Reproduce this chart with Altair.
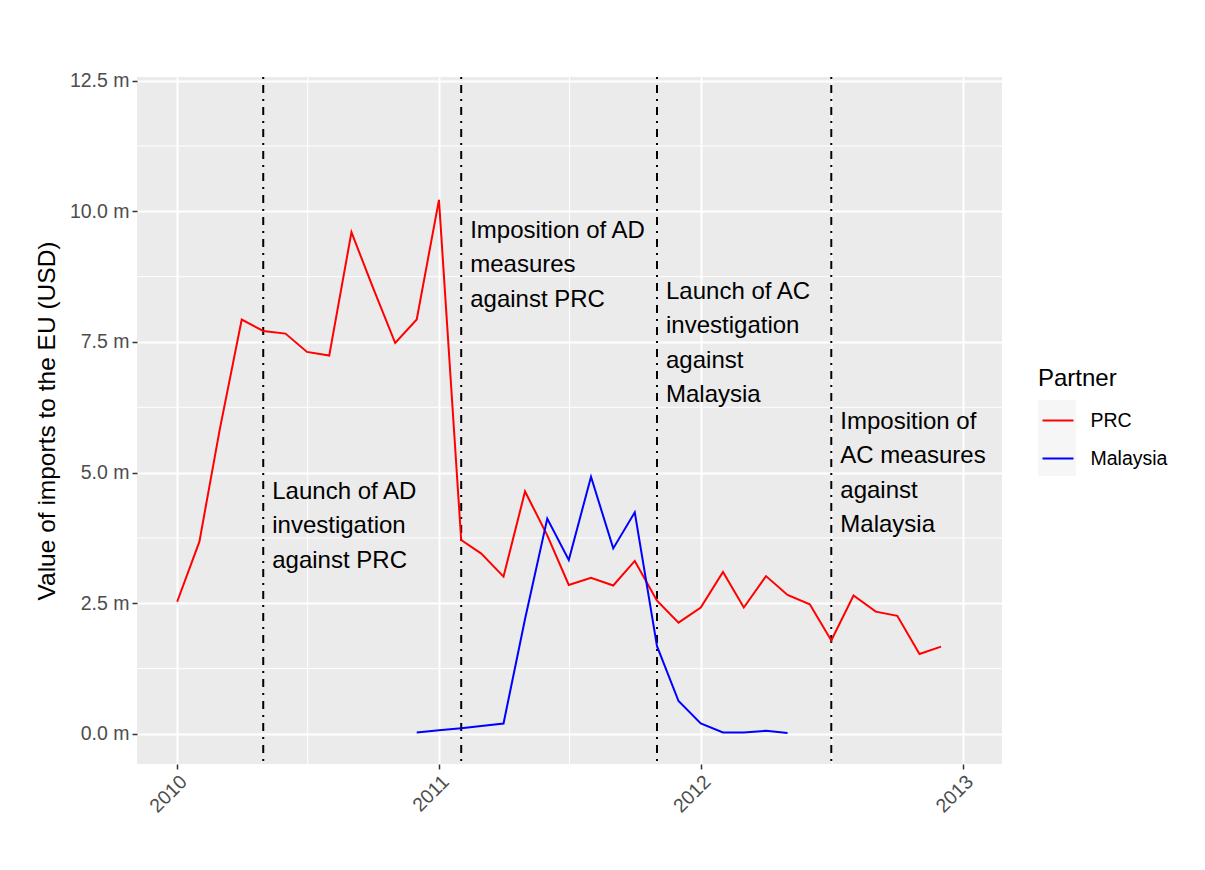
import altair as alt
import pandas as pd

# ---------------- data ----------------
prc_months = [
    "2010-01-01", "2010-02-01", "2010-03-01", "2010-04-01", "2010-05-01", "2010-06-01",
    "2010-07-01", "2010-08-01", "2010-09-01", "2010-10-01", "2010-11-01", "2010-12-01",
    "2011-01-01", "2011-02-01", "2011-03-01", "2011-04-01", "2011-05-01", "2011-06-01",
    "2011-07-01", "2011-08-01", "2011-09-01", "2011-10-01", "2011-11-01", "2011-12-01",
    "2012-01-01", "2012-02-01", "2012-03-01", "2012-04-01", "2012-05-01", "2012-06-01",
    "2012-07-01", "2012-08-01", "2012-09-01", "2012-10-01", "2012-11-01", "2012-12-01",
]
prc_values = [
    2.53, 3.68, 5.80, 7.93, 7.71, 7.66, 7.31, 7.24, 9.60, 8.54, 7.48, 7.93,
    10.22, 3.71, 3.45, 3.01, 4.64, 3.80, 2.85, 2.99, 2.84, 3.31, 2.55, 2.13,
    2.42, 3.10, 2.42, 3.02, 2.66, 2.48, 1.79, 2.65, 2.34, 2.26, 1.53, 1.67,
]

mal_months = [
    "2010-12-01",
    "2011-01-01", "2011-02-01", "2011-03-01", "2011-04-01", "2011-05-01", "2011-06-01",
    "2011-07-01", "2011-08-01", "2011-09-01", "2011-10-01", "2011-11-01", "2011-12-01",
    "2012-01-01", "2012-02-01", "2012-03-01", "2012-04-01", "2012-05-01",
]
mal_values = [
    0.03,
    0.07, 0.11, 0.15, 0.20, 2.20, 4.12, 3.33, 4.92, 3.55, 4.24, 1.68, 0.63,
    0.20, 0.03, 0.03, 0.06, 0.02,
]

partners = ["PRC", "Malaysia"]
partner_colors = ["#FF0000", "#0000FF"]

event_dates = ["2010-05-01", "2011-02-01", "2011-11-01", "2012-07-01"]
event_labels = [
    ["Launch of AD", "investigation", "against PRC"],
    ["Imposition of AD", "measures", "against PRC"],
    ["Launch of AC", "investigation", "against", "Malaysia"],
    ["Imposition of", "AC measures", "against", "Malaysia"],
]
# value at which the first line of each note sits
event_label_y = [4.63, 9.63, 8.46, 5.97]

y_major = [0.0, 2.5, 5.0, 7.5, 10.0, 12.5]
y_minor = [1.25, 3.75, 6.25, 8.75, 11.25]
x_minor = ["2010-07-02", "2011-07-02", "2012-07-02"]

y_title = "Value of imports to the EU (USD)"
legend_title = "Partner"

# ---------------- tables ----------------
lines_df = pd.concat([
    pd.DataFrame({"date": prc_months, "value": prc_values, "Partner": "PRC"}),
    pd.DataFrame({"date": mal_months, "value": mal_values, "Partner": "Malaysia"}),
], ignore_index=True)
events_df = pd.DataFrame({"date": event_dates, "label": event_labels, "y": event_label_y})
yminor_df = pd.DataFrame({"v": y_minor})
xminor_df = pd.DataFrame({"date": x_minor})

FONT = "Liberation Sans"

x_scale = alt.Scale(
    type="utc",
    domain=[alt.DateTime(year=2009, month=11, date=6, utc=True),
            alt.DateTime(year=2013, month=2, date=24, utc=True)],
    nice=False,
)
y_scale = alt.Scale(domain=[-0.575, 12.57], nice=False, zero=False)

x_axis = alt.Axis(
    title=None,
    values=[alt.DateTime(year=yr, month=1, date=1, utc=True) for yr in (2010, 2011, 2012, 2013)],
    format="%Y",
    labelAngle=-45,
    labelFontSize=19.5,
    labelColor="#4D4D4D",
    labelFont=FONT,
    labelPadding=3,
    tickColor="#333333",
    tickSize=5,
    tickWidth=1.5,
    domain=False,
    grid=True,
    gridColor="white",
    gridWidth=2,
)
y_axis = alt.Axis(
    title=y_title,
    values=y_major,
    labelExpr="format(datum.value, '.1f') + ' m'",
    labelFontSize=19.5,
    labelColor="#4D4D4D",
    labelFont=FONT,
    labelPadding=3,
    tickColor="#333333",
    tickSize=5,
    tickWidth=1.5,
    domain=False,
    grid=True,
    gridColor="white",
    gridWidth=2,
    titleFont=FONT,
    titleFontSize=24.5,
    titleFontWeight="normal",
    titleColor="black",
    titlePadding=10,
)

X = alt.X("date:T", scale=x_scale, axis=x_axis)
Y = alt.Y("value:Q", scale=y_scale, axis=y_axis)

minor_h = alt.Chart(yminor_df).mark_rule(color="white", strokeWidth=1).encode(
    y=alt.Y("v:Q", scale=y_scale, axis=y_axis)
)
minor_v = alt.Chart(xminor_df).mark_rule(color="white", strokeWidth=1).encode(
    x=alt.X("date:T", scale=x_scale, axis=x_axis)
)

event_rules = alt.Chart(events_df).mark_rule(
    color="black", strokeWidth=2, strokeDash=[2, 6, 8, 6]
).encode(x=alt.X("date:T", scale=x_scale, axis=x_axis))

lines = alt.Chart(lines_df).mark_line(strokeWidth=2).encode(
    x=X,
    y=Y,
    stroke=alt.Stroke(
        "Partner:N",
        scale=alt.Scale(domain=partners, range=partner_colors),
        sort=partners,
        legend=alt.Legend(
            title=legend_title,
            orient="none",
            legendX=901,
            legendY=290,
            symbolType="stroke",
            symbolSize=961,
            symbolStrokeWidth=2,
            symbolOffset=3.5,
            labelOffset=16,
            rowPadding=12,
            titlePadding=13,
            titleFontSize=24,
            titleFont=FONT,
            titleFontWeight="normal",
            titleColor="black",
            labelFontSize=19.5,
            labelFont=FONT,
            labelColor="black",
            zindex=1,
        ),
    ),
    detail="Partner:N",
)

key_boxes = alt.Chart(lines_df).mark_point(filled=True).encode(
    x=X,
    y=Y,
    fill=alt.Fill(
        "key:N",
        scale=alt.Scale(domain=["k1", "k2"], range=["#F2F2F2", "#F2F2F2"]),
        legend=alt.Legend(
            title=None,
            orient="none",
            legendX=901,
            legendY=323,
            symbolType="square",
            symbolSize=1444,
            symbolStrokeWidth=0,
            labelExpr="''",
            rowPadding=0,
            zindex=0,
        ),
    ),
).transform_calculate(key="'k1'").transform_filter("false")

texts = alt.Chart(events_df).mark_text(
    align="left", baseline="middle", dx=9, fontSize=24, lineHeight=34.5,
    font=FONT, color="black"
).encode(
    x=alt.X("date:T", scale=x_scale, axis=x_axis),
    y=alt.Y("y:Q", scale=y_scale, axis=y_axis),
    text="label",
)

chart = alt.layer(minor_h, minor_v, event_rules, key_boxes, lines, texts).properties(
    width=865,
    height=687,
    padding={"left": 129, "top": 69, "right": 190, "bottom": 100},
    autosize=alt.AutoSizeParams(type="none"),
).configure(font=FONT).configure_view(fill="#EBEBEB", strokeWidth=0)

chart.save("out.html", embed_options={"renderer": "svg", "actions": False})
